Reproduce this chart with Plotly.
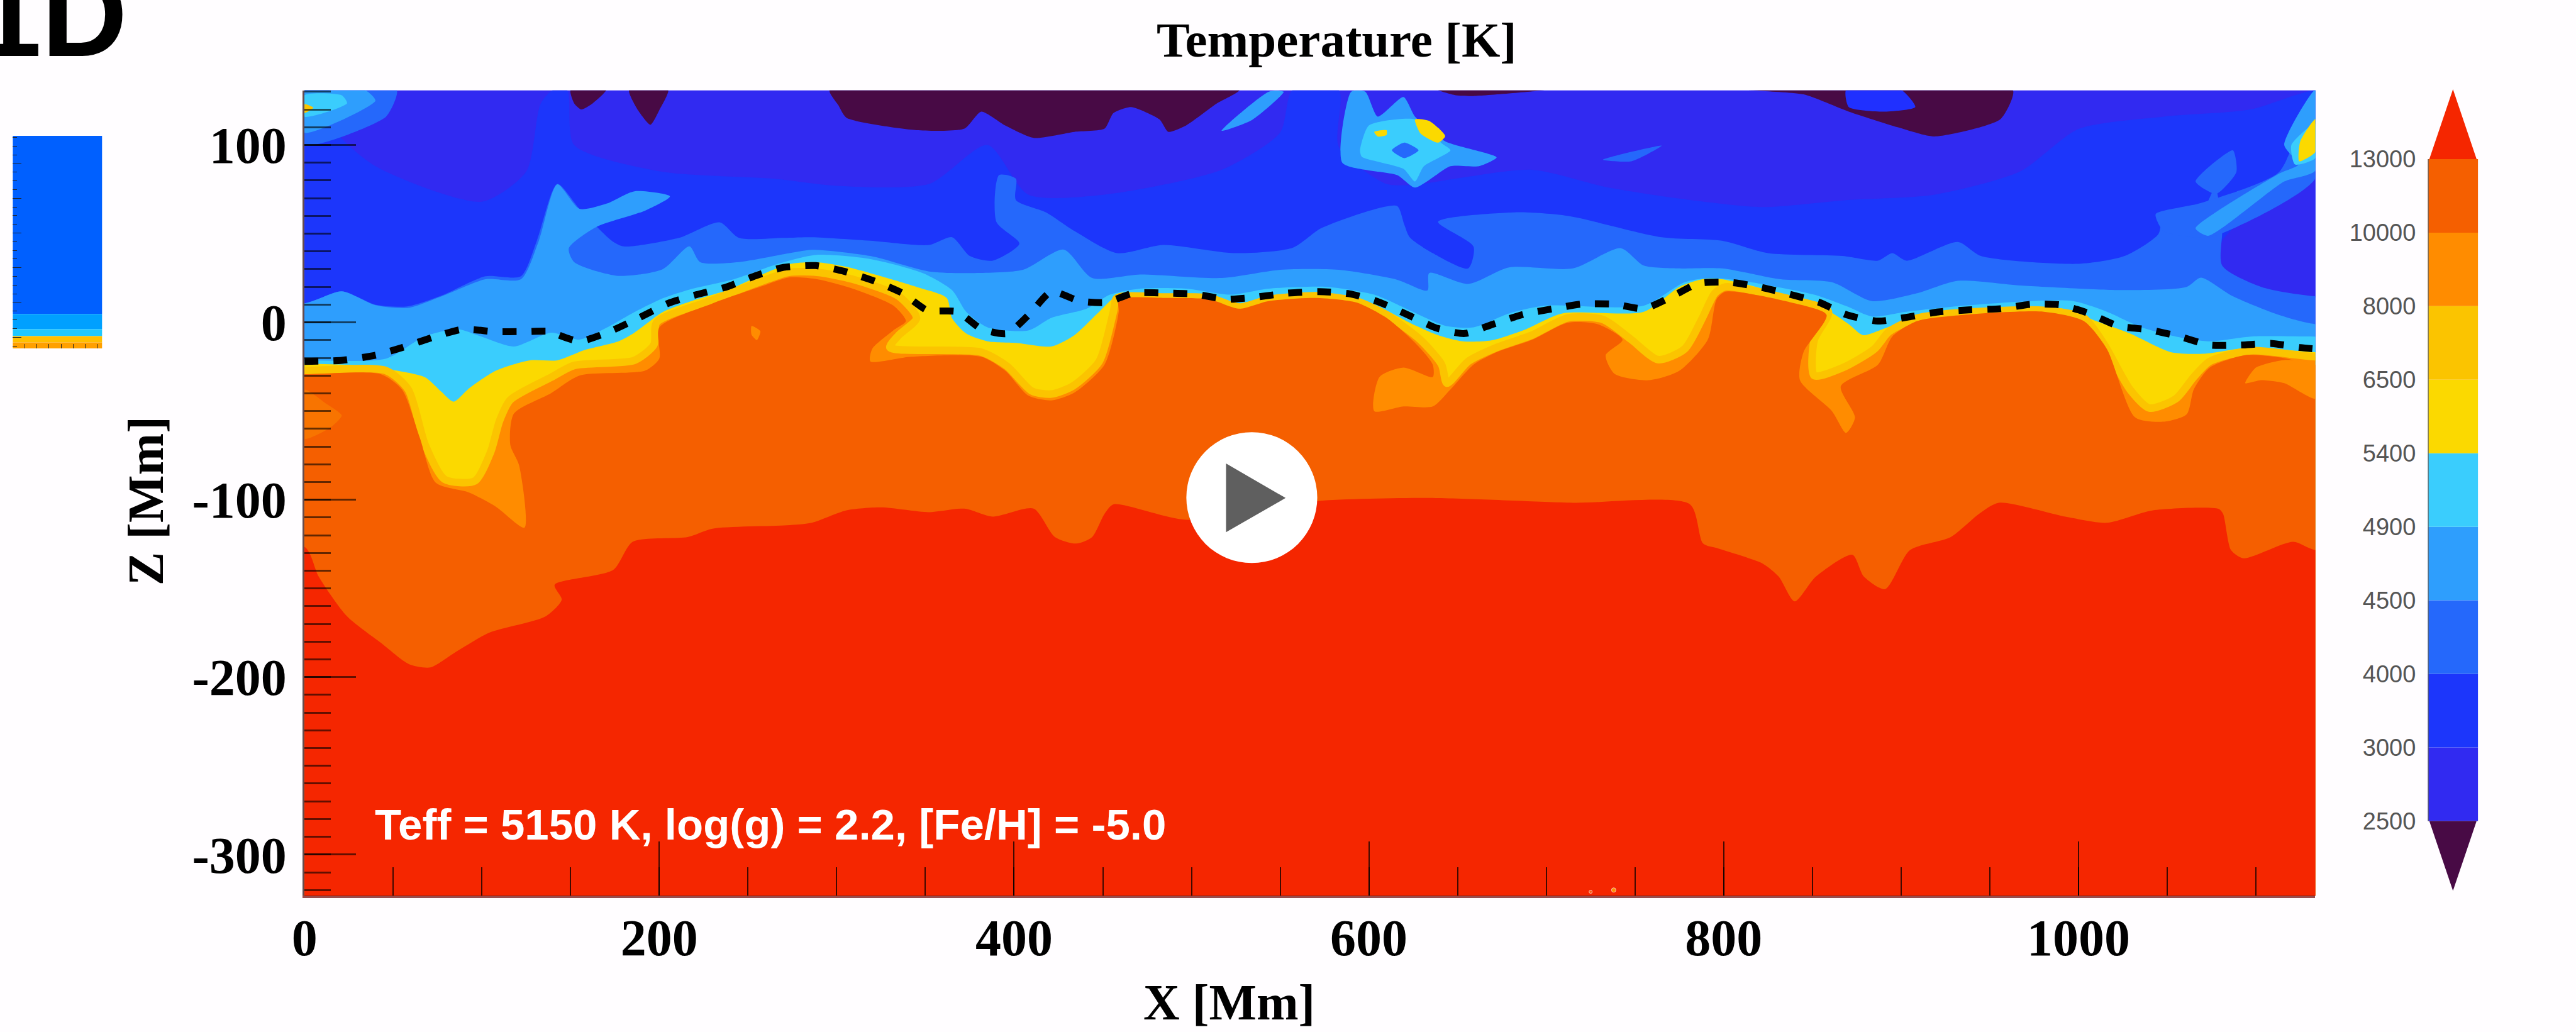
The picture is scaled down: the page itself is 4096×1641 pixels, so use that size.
import plotly.graph_objects as go

W, H = 4096, 1641
REF_W, REF_H = 4763, 1908

# Isotherm outlines: (X in Mm, Z in Mm)
T3000 = [(0,131),(14,131),(16,110),(40,88),(100,68),(125,85),(133,123),(140,131),(148,131),(152,100),(201,85),(264,81),
         (300,77),(352,78),(385,100),(408,72),(451,72),(517,86),(550,107),(557,131),(583,131),(583,99),(610,78),(629,78),
         (649,81),(692,86),(735,76),(781,69),(822,65),(870,69),(919,72),(967,85),(1000,109),(1048,116),(1097,120),(1133.5,131)]
T4000 = [(0,10.7),(21,17.5),(40,10),(58,9),(77,15),(102,26),(122,26),(131,46),(142.5,78),(155,64),(173.6,45.7),(180,42.8),
         (211,47.6),(234,56.4),(245,47.6),(270,47.6),(286,48),(319,46),(352,43.6),(365,48),(375,37.4),(388,34.8),(403,44.4),
         (390,56.7),(391.5,83),(401,81),(401,69),(418,62),(434,51.5),(458,39),(484,43.6),(524,39),(557,42),(573,53),(603,63.7),
         (616,65.5),(620,55),(623,48),(636,39),(656,30.4),(659,42.7),(639,56.7),(682,62),(712,60),(765,48),(799,46),(825,39),
         (867,37.4),(887,34.8),(895,39),(903,34.8),(932,45.3),(945,37.4),(1000,33),(1026,37.4),(1045,49.7),(1048,60),(1071,65.5),
         (1077,76),(1081,53),(1081,32),(1103,20),(1133.5,14.7)]
T4500 = [(0,10.7),(21,17.5),(40,9.7),(58.5,8.2),(77,14.6),(102,24.3),(122,24.3),(132,45.7),(142.5,77.8),(155,64),(170.5,67),
         (186,73.9),(206,71),(192,63),(164,53.5),(149,41.8),(152,34),(177,26.2),(202,30),(217,42.8),(223,34),(245,34),(273,38.9),
         (286,40.9),(319,37.4),(352,28.7),(378,27.8),(405,29.6),(428,41),(444,25),(471,27),(517,25),(550,29.6),(583,29.6),(616,24),
         (633,18),(634,27.8),(656,21.7),(679,31),(715,30.4),(742,41.8),(755,32),(774,30.4),(799,30.4),(832,24.3),(861,22.6),
         (883.5,12),(909,16.4),(932,23.4),(967.5,20.8),(1026,18.2),(1061,20),(1069,25.2),(1087,14.7),(1113,4.2),(1133.5,-1)]
T4900 = [(0,-21.4),(46,-20.4),(68,-7.8),(86.5,-3.9),(99,-7.8),(118,-13.6),(139,-5.8),(155,-9.7),(170.5,-2.9),(186,5.8),(202,13.6),
         (217,18.5),(242,24.3),(267,33),(288,38),(319,35.7),(348.5,27.8),(365,18.2),(373,6),(385,-2.8),(408,-4.6),(421,2.5),(441,7.7),
         (454,15.6),(471,19),(497,19),(522,15.6),(543.5,19),(576.5,20),(603,15.6),(623,6.8),(643,-1.9),(659,-2.8),(679,5),(699,9.4),
         (755,9.4),(778,22.6),(793,25),(815.5,22.6),(851,15.6),(870.5,8.6),(883.5,3.3),(903,6),(935,9.4),(974,12),(997,12),(1016,6),
         (1035.5,-2.8),(1055,-8),(1074,-10.7),(1097,-8),(1133.5,-8)]
T5400 = [(0,-23.3),(30.5,-24.3),(52,-27.2),(68,-31),(77,-39),(84,-44.7),(93,-37),(108,-27.2),(127,-21.4),(142.5,-21.4),(158,-15.6),
         (177,-10.7),(186,-5.8),(202,5.8),(220,12.6),(239,18.4),(258,27),(273,32.8),(288,34),(305.5,31.3),(325,26),(345,20),(362,13.8),
         (365,2.4),(373,-6.3),(385,-10.7),(401,-11.6),(421,-13.6),(434,-7.2),(448,6),(458,14.7),(484,15.6),(510,14.7),(527,9.5),(543.5,13.8),
         (570,16.4),(590,13.8),(606,8.6),(623,-0.2),(639,-7.2),(653,-10.7),(669,-10.2),(687,-4.5),(709,5),(755,6),(775,20),(788,24.3),
         (799,24.3),(822,19),(854,9.4),(870.5,-1),(878.6,-7.2),(890,-3.7),(909,3.3),(929,6),(974,8.6),(993,7.4),(1010,0.7),(1029,-6.3),
         (1052,-16.8),(1071,-17.7),(1097,-14.2),(1133.5,-16.8)]
T8000 = [(0,-27.2),(46,-27.2),(58.5,-37.9),(68,-69),(79,-88.5),(96,-89.4),(105,-72.9),(110,-55.4),(116,-43.7),(139,-31),(152,-24.3),
         (186,-21.4),(197,-12.6),(198.5,0),(230,12.6),(258,23.3),(273,28.2),(289,28.2),(309,24.3),(335,14.7),(345,2.4),(335,-7.2),(330,-14.2),
         (381.5,-16.8),(396,-24.7),(410,-38.7),(421,-40.4),(433,-36),(448,-22),(456,6),(458,13.8),(484,14.3),(510,13.8),(527,8.6),(543.5,13),
         (570,15),(593,12),(610,4.2),(629,-9.8),(641,-23.8),(644,-34.3),(656,-22),(672,-14.2),(692,-7.2),(712,2.5),(732,1.6),(748,-9.8),
         (763,-21),(778,-15),(788,2.5),(795,16.4),(801,20),(838,13),(859,6),(851,-10),(851,-30),(867,-25.6),(885,-15),(893,-5.4),(909,2.4),
         (935,5.6),(980.5,6.8),(1003,2.5),(1014,-11.6),(1029,-37.8),(1040,-48.3),(1055,-43),(1065,-30.8),(1074,-22),(1097,-16),(1133.5,-19.4)]
T10000 = [(0,-29.2),(43,-29.2),(55,-37.9),(65,-65),(74,-90.4),(93,-96),(108,-104),(124,-115.7),(121,-80.7),(116,-69),(118,-51.5),
          (139,-39.9),(155,-30),(192,-27.2),(200,-20.4),(200,-2.9),(230,10.7),(258,20.4),(273,25.3),(289,24.3),(309,19),(332,9.4),(339,0.7),
          (332,-4.5),(320,-15),(319,-22),(342,-19.4),(381.5,-19.4),(395,-27.3),(408,-41.3),(421,-44),(434,-39.6),(451,-23.8),(459,6),(459,13),
          (484,13.8),(510,13),(527,7.7),(543.5,12),(570,13.8),(593,11.2),(610,2.5),(626,-11.5),(636,-23.8),(636,-30.8),(619.5,-25.5),(606,-30.8),
          (603,-50),(619.5,-47.4),(636,-47.4),(646,-37.8),(659,-23.8),(672,-16.8),(692,-9.8),(712,-0.2),(729,-1),(743,-9.8),(733.5,-18.5),
          (738.5,-29),(758,-32.6),(775,-27.3),(791,-9.8),(796,13),(801,17.3),(838,11.2),(858,4.2),(845,-16.8),(843,-32.6),(861,-50),(869,-62.3),
          (874,-53.6),(866,-36),(887,-23.8),(895,-8),(909,0.7),(935,4.2),(980.5,6),(1003,0.7),(1016,-15),(1032,-53.6),(1048,-56),(1061,-51.8),
          (1065,-37.8),(1074,-25.5),(1094,-18.5),(1115,-20),(1133.5,-24)]
T13000 = [(0,-126.5),(8,-143.3),(24,-165.7),(43,-180.6),(59,-192.7),(71,-194.5),(85,-186),(104,-175),(136,-165.7),(145,-156.3),(141,-148),
          (174,-139.6),(185,-123.7),(216,-121),(230,-116.3),(272,-114.4),(286,-113),(305.5,-106),(325,-104.3),(352,-107),(372,-105),(388,-109.5),
          (411,-105),(423,-121),(435,-124.7),(444,-121),(451,-107.9),(456,-102.6),(497,-111.3),(570,-100.8),(633,-99),(715,-101.7),(781,-102.6),
          (788.4,-124.7),(797,-127.5),(822,-136),(831,-143.3),(840,-157.3),(852,-143.3),(872.5,-131),(879,-143.3),(891,-150.4),(905,-128.4),
          (928,-121),(944,-107.9),(955,-101.7),(993,-109.6),(1016,-113),(1042,-106),(1079,-105.2),(1081.5,-107.9),(1086,-128.4),(1093,-133),
          (1121,-123.7),(1133.5,-128.4)]

# Small closed features: (X, Z)
cold_right = [(1081,46),(1133.5,85),(1133.5,14),(1103,14),(1081,30)]
cold_a = [(150,131),(170,131),(162.5,123.5),(156,120),(152,123.5)]
cold_b = [(183,131),(205,131),(200,119.6),(195,111.4),(188,119.6)]
cold_c = [(296,131),(527,131),(514,123.2),(497,111),(487,107.4),(482,114.4),(466,121.4),(456,118),(451,109.2),(434,107.4),(411,104),
          (395,111),(381.5,118.8),(372,109.2),(345,108.3),(305.5,115.3),(301,122.3)]
cold_d = [(639,131),(699,131),(659,127.6),(649,128)]
cold_e = [(814,131),(963,131),(956,114.5),(919,104.8),(898,110),(870.5,118.8),(845,128.5)]
gap_e = [(869,131),(900,131),(908,121.4),(890,118.8),(870.5,121.4)]
hot_corner_blue = [(0,131),(52,131),(46,116),(0,100)]
hot_corner_light = [(0,131),(34,131),(40,125),(21,114),(0,107)]
hot_corner_cyan = [(0,128),(21,128),(24,123.5),(0,116)]
hot_corner_yellow = [(0,123),(5,121),(0,118)]
plume_light = [(590,130),(598,130),(605,116),(619.5,127),(626,116),(643,102),(672,93),(662,88),(646,88),(626,76),(616,83),(585,90)]
plume_cyan = [(595,97),(600,111),(626,114.4),(641,101),(646,97),(631,88),(626,79.4),(619.5,86.5),(596,93.4)]
plume_hole = [(613,97),(620,101.3),(628,97),(620,92.6)]
plume_yellow = [(626,114.4),(634,113.6),(643,105),(639,101.3),(629,106.6)]
plume_dot = [(603,107.4),(610,108.3),(610,105.7),(605,104.8)]
streak_top = [(517,108),(543.5,130),(552,130),(534,114)]
streak_small = [(732,91.7),(765,99.6),(748,90.8)]
right_blue = [(1043.5,61),(1068,67),(1113,84.7),(1133.5,131),(1133.5,81),(1074,48),(1048,51.4)]
right_patch = [(1066,79.4),(1087,97),(1089,84.7),(1077.5,72.4)]
right_light = [(1133.5,131),(1116,100),(1124,89),(1113,83.8),(1066,53),(1073,48.8),(1116,79.4),(1133.5,85.6)]
right_cyan = [(1133.5,112),(1120,100),(1122,89),(1133.5,92.6)]
right_yellow = [(1133.5,114.5),(1125,102),(1124.4,90.8),(1133.5,96)]
spot_a = [(252,-2),(257,-5),(255,-10),(252,-7)]
edge_patch = [(0,-38),(12,-45.7),(21,-52.5),(15,-59),(0,-65.6)]
right_warm = [(1094,-34.3),(1100,-25.5),(1116,-21.2),(1133.5,-23.8),(1133.5,-43),(1116,-34.3),(1103,-32.6)]

# Dashed optical-surface line: (X, Z)
tau_one = [(0,-22),(21,-21.4),(40,-18.5),(55,-14.2),(72.5,-8.4),(89,-3.9),(107,-5.2),(124,-5.2),(140,-5.2),(142.5,-6.8),(155,-10.7),(172,-5.2),
           (188.5,2.5),(205,10.7),(221,15.6),(238,20),(254,26.2),(270,31),(288,32),(304.5,28.7),(321,23.4),(337,16.5),(351,6.8),(368,6),(381.5,-3.7),
           (396,-6.3),(409,5),(421,17.3),(437,12),(451.6,11.2),(467.5,16.5),(485,16.5),(502,15.9),(520,13),(537,14.3),(554,16.5),(572,17.3),(589,16.1),
           (605,11.7),(622,4.2),(638,-3.2),(654,-6.3),(670,-1),(687,4.5),(704,7.7),(720,10.3),(738,10.3),(755,7.7),(770.5,14.4),(786,22),(803,22.6),
           (820,20),(837,15.9),(854,11.2),(869.5,4.2),(887,0.7),(904,3),(921,5.9),(938,7),(956,7.7),(973,10.2),(990,9.8),(1006,5),(1022.5,-2.1),(1040,-4.2),
           (1057,-8),(1074,-12.8),(1091,-12.8),(1109,-11.9),(1125,-14.2),(1133.5,-15)]

# Colour key
key_labels = ["2500","3000","4000","4500","4900","5400","6500","8000","10000","13000"]
key_colors = ["#312af1","#1c36fb","#2568fb","#2e9efd","#3acdfd","#fbd900","#fbc400","#ff8c00","#f55f00"]
key_low_colour = "#480a45"
key_high_colour = "#f52600"

# 1D panel bands: (upper Z, lower Z, colour)
panel_tops = [116, 13.4, 4.6, 0.6, -3]
panel_bottoms = [13.4, 4.6, 0.6, -3, -6.4]
panel_colors = ["#0060ff","#00a0ff","#1fc8ff","#ffc000","#ffa000"]

X_MAX, Z_MAX, Z_MIN = 1133.5, 130.8, -323.2
xticks = [0,200,400,600,800,1000]
zticks = [100,0,-100,-200,-300]
zticklabels = ["100","0","-100","-200","-300"]
play_centre, play_radius = (534,-98.8), 36.9
play_triangle = [(520,-80.5),(552,-99),(520,-117.4)]
hot_specks = [(738,-320),(725,-321)]

INDIGO, DEEP, BLUE, LIGHT, CYAN = "#312af1","#1c36fb","#2568fb","#2e9efd","#3acdfd"
YELLOW, AMBER, ORANGE, ORED, RED, PURPLE = "#fbd900","#fbc400","#ff8c00","#f55f00","#f52600","#480a45"
PAPER = "#fffdff"


def px(x0, x1, y0, y1):
    return dict(domain=[x0/REF_W, x1/REF_W]), dict(domain=[1-y1/REF_H, 1-y0/REF_H])


fig = go.Figure()


def below(curve, colour, line=None, lw=0):
    xs = [-60, *[p[0] for p in curve], 1200, 1200, -60]
    zs = [curve[0][1], *[p[1] for p in curve], curve[-1][1], -420, -420]
    fig.add_trace(go.Scatter(x=xs, y=zs, mode="lines", fill="toself", fillcolor=colour,
                             line=dict(color=line or colour, width=lw, shape="spline", smoothing=0.7),
                             hoverinfo="skip", showlegend=False))


def blob(points, colour):
    fig.add_trace(go.Scatter(x=[p[0] for p in points]+[points[0][0]], y=[p[1] for p in points]+[points[0][1]],
                             mode="lines", fill="toself", fillcolor=colour,
                             line=dict(color=colour, width=0, shape="spline", smoothing=0.6),
                             hoverinfo="skip", showlegend=False))


below([(-60,200),(1200,200)], INDIGO)
below(T3000, DEEP)
blob(cold_right, INDIGO)
for c in (cold_a, cold_b, cold_c, cold_d, cold_e):
    blob(c, PURPLE)
blob(gap_e, "#2030ff")
below(T4000, BLUE)
for c, col in ((right_blue, BLUE), (right_patch, BLUE), (streak_small, BLUE), (hot_corner_blue, BLUE)):
    blob(c, col)
for c, col in ((plume_light, LIGHT), (streak_top, LIGHT), (right_light, LIGHT), (hot_corner_light, LIGHT)):
    blob(c, col)
for c, col in ((plume_cyan, CYAN), (plume_hole, BLUE), (right_cyan, CYAN), (hot_corner_cyan, CYAN),
               (plume_yellow, YELLOW), (plume_dot, YELLOW), (right_yellow, YELLOW), (hot_corner_yellow, AMBER)):
    blob(c, col)
below(T4500, LIGHT)
below(T4900, CYAN)
below(T5400, YELLOW)
below(T8000, ORANGE, line=AMBER, lw=12)
below(T10000, ORED)
blob(spot_a, ORANGE)
blob(edge_patch, "#f87400")
blob(right_warm, ORANGE)
below(T13000, RED)
fig.add_trace(go.Scatter(x=[p[0] for p in tau_one], y=[p[1] for p in tau_one], mode="lines",
                         line=dict(color="black", width=11, dash="22px,24px", shape="spline", smoothing=0.6),
                         hoverinfo="skip", showlegend=False))
fig.add_trace(go.Scatter(x=[p[0] for p in hot_specks], y=[p[1] for p in hot_specks], mode="markers",
                         marker=dict(color=["#ffc000","#fa7a20"], size=[7,5]), hoverinfo="skip", showlegend=False))

# Colour key (axes x2/y2)
for i, col in enumerate(key_colors):
    fig.add_trace(go.Scatter(x=[0,1,1,0,0], y=[i,i,i+1,i+1,i], mode="lines", fill="toself", fillcolor=col,
                             line=dict(width=0, color=col), xaxis="x2", yaxis="y2", hoverinfo="skip", showlegend=False))
top_i = len(key_colors)
fig.add_trace(go.Scatter(x=[0.03,0.97,0.5,0.03], y=[top_i,top_i,top_i+0.95,top_i], mode="lines", fill="toself", fillcolor=key_high_colour,
                         line=dict(width=0, color=key_high_colour), xaxis="x2", yaxis="y2", hoverinfo="skip", showlegend=False))
fig.add_trace(go.Scatter(x=[0.03,0.97,0.5,0.03], y=[0,0,-0.95,0], mode="lines", fill="toself", fillcolor=key_low_colour,
                         line=dict(width=0, color=key_low_colour), xaxis="x2", yaxis="y2", hoverinfo="skip", showlegend=False))
fig.add_trace(go.Scatter(x=[0,0], y=[0,top_i], mode="lines", line=dict(color="rgba(90,90,90,0.8)", width=3),
                         xaxis="x2", yaxis="y2", hoverinfo="skip", showlegend=False))

# 1D panel (axes x3/y3)
for t, b, col in zip(panel_tops, panel_bottoms, panel_colors):
    fig.add_trace(go.Scatter(x=[0,7.4,7.4,0,0], y=[b,b,t,t,b], mode="lines", fill="toself", fillcolor=col,
                             line=dict(width=0, color=col), xaxis="x3", yaxis="y3", hoverinfo="skip", showlegend=False))

xd, yd = px(563, 4281, 167, 1656)
serif = dict(family="Liberation Serif", size=82, color="black", weight=700)
fig.update_layout(
    width=W, height=H, margin=dict(l=0, r=0, t=0, b=0, autoexpand=False), autosize=False,
    paper_bgcolor=PAPER, plot_bgcolor=PAPER, showlegend=False,
    xaxis=dict(**xd, range=[0, X_MAX], tickvals=xticks, ticks="inside", ticklen=86, tickwidth=2, tickcolor="rgba(0,0,0,0.75)",
               tickfont=serif, ticklabelstandoff=-8, showgrid=False, zeroline=False, automargin=False,
               showline=True, linecolor="rgba(110,0,0,0.7)", linewidth=4,
               minor=dict(ticks="inside", dtick=50, ticklen=45, tickwidth=2, tickcolor="rgba(0,0,0,0.75)", showgrid=False)),
    yaxis=dict(**yd, range=[Z_MIN, Z_MAX], tickvals=zticks, ticktext=zticklabels, ticks="inside", ticklen=82, tickwidth=3,
               tickcolor="rgba(0,0,0,0.6)", tickfont=serif, ticklabelstandoff=9, showgrid=False, zeroline=False, automargin=False,
               showline=True, linecolor="rgba(40,0,0,0.7)", linewidth=3,
               minor=dict(ticks="inside", dtick=10, ticklen=42, tickwidth=3, tickcolor="rgba(0,0,0,0.6)", showgrid=False)),
)
kx, ky = px(4489, 4582, 165, 1647)
fig.update_layout(
    xaxis2=dict(**kx, anchor="y2", range=[0, 1], visible=False),
    yaxis2=dict(**ky, anchor="x2", range=[-0.95, len(key_colors)+0.95], tickvals=list(range(len(key_labels))), ticktext=key_labels,
                tickfont=dict(family="Liberation Sans", size=38, color="#555555"), ticks="", ticklabelstandoff=18,
                showgrid=False, zeroline=False, showline=False),
)
ix, iy = px(23.5, 189, 251, 644)
fig.update_layout(
    xaxis3=dict(**ix, anchor="y3", range=[0, 7.4], dtick=1, ticks="inside", ticklen=7, tickwidth=1, tickcolor="#222",
                showticklabels=False, showgrid=False, zeroline=False),
    yaxis3=dict(**iy, anchor="x3", range=[-6.4, 116], dtick=20, tick0=0, ticks="inside", ticklen=14, tickwidth=1, tickcolor="#222",
                showticklabels=False, showgrid=False, zeroline=False,
                minor=dict(ticks="inside", dtick=5, ticklen=7, tickwidth=1, tickcolor="#222", showgrid=False)),
)
# Play button
cx, cz = play_centre
fig.add_shape(type="circle", xref="x", yref="y", x0=cx-play_radius, x1=cx+play_radius, y0=cz-play_radius, y1=cz+play_radius,
              fillcolor="white", line=dict(width=0), layer="above")
path = "M " + " L ".join(f"{a} {b}" for a, b in play_triangle) + " Z"
fig.add_shape(type="path", xref="x", yref="y", path=path, fillcolor="#5f5f5f", line=dict(color="#5f5f5f", width=3), layer="above")


def note(text, x, y, size, family="Liberation Serif", colour="black", xanchor="center", yanchor="middle", angle=0):
    fig.add_annotation(text=text, xref="paper", yref="paper", x=x/W, y=1-y/H, showarrow=False, xanchor=xanchor, yanchor=yanchor,
                       textangle=angle, font=dict(family=family, size=size, color=colour, weight=700), borderpad=0)


note("Temperature [K]", 2125, 63, 79)
note("X [Mm]", 1954, 1594, 80)
note("Z [Mm]", 232, 797, 80, angle=-90)
note("1D", 204, 130, 189, family="Liberation Sans", xanchor="right", yanchor="bottom")
note("Teff = 5150 K, log(g) = 2.2, [Fe/H] = -5.0", 595, 1311, 69, family="Liberation Sans", colour="white", xanchor="left")

fig.write_html("out.html", config={"displayModeBar": False},
               post_script="document.body.style.margin='0';document.documentElement.style.overflow='hidden';")
